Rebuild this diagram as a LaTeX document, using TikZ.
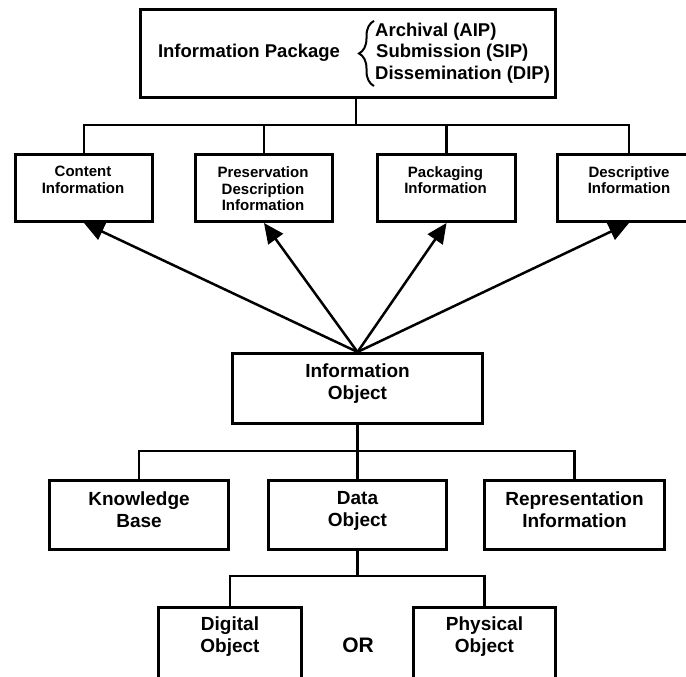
\documentclass[tikz,border=0pt]{standalone}
\usepackage{fontspec}
\setmainfont{Liberation Sans}
\usetikzlibrary{arrows.meta,decorations.pathreplacing}
\begin{document}
\begin{tikzpicture}[x=1pt,y=-1pt,
  box/.style={draw=black, line width=3pt, fill=white, inner sep=0pt, anchor=north west},
  conn/.style={draw=black, line width=2.5pt},
  arr/.style={conn, -{Triangle[length=20pt,width=18pt]}},
  small/.style={font=\fontsize{15}{16.5}\selectfont\bfseries, align=center, inner sep=0pt},
  big/.style={font=\fontsize{19}{22}\selectfont\bfseries, align=center, inner sep=0pt},
  head/.style={font=\fontsize{18.5}{22}\selectfont\bfseries, inner sep=0pt},
]
\useasboundingbox (0,0) rectangle (686,677);
\fill[white] (0,0) rectangle (686,677);
\clip (0,0) rectangle (686,677);

% --- boxes (outer edges; outer sep is half the line width) ---
\node[box, minimum width=415, minimum height=88] (ip)  at (139,8) {};
\node[box, minimum width=137, minimum height=67] (ci)  at (14,153) {};
\node[box, minimum width=137, minimum height=67] (pdi) at (194,153) {};
\node[box, minimum width=138, minimum height=67] (pki) at (376,153) {};
\node[box, minimum width=143, minimum height=67] (dsi) at (556,153) {};
\node[box, minimum width=250, minimum height=70] (io)  at (231,352) {};
\node[box, minimum width=179, minimum height=69] (kb)  at (48,479) {};
\node[box, minimum width=178, minimum height=69] (do)  at (267,479) {};
\node[box, minimum width=180, minimum height=69] (ri)  at (483,479) {};
\node[box, minimum width=143, minimum height=90] (dgo) at (157,606) {};
\node[box, minimum width=142, minimum height=90] (pho) at (412,606) {};

% --- texts ---
\node[head, anchor=base] (ipl) at (249,58) {Information Package};
\node[head, anchor=base west] (a1) at (375,36.5) {Archival (AIP)};
\node[head, anchor=base west] (a2) at (376,58) {Submission (SIP)};
\node[head, anchor=base west] (a3) at (375,80) {Dissemination (DIP)};
\draw[line width=2pt, decorate, decoration={brace, amplitude=15pt}]
  ([xshift=-1pt,yshift=-2pt]a3.south west) -- ([xshift=-1pt,yshift=2pt]a1.north west);

\node[small] (cit)  at (83,180)    {Content\\Information};
\node[small] (pdit) at (263,189)   {Preservation\\Description\\Information};
\node[small] (pkit) at (445.5,180) {Packaging\\Information};
\node[small] (dsit) at (629,180)   {Descriptive\\Information};
\node[big] (iot)  at (357.5,384) {Information\\Object};
\node[big] (kbt)  at (139,510)   {Knowledge\\Base};
\node[big] (dot)  at (357.5,511) {Data\\Object};
\node[big] (rit)  at (574.5,510) {Representation\\Information};
\node[big] (dgot) at (230,637)   {Digital\\Object};
\node[big] (phot) at (484.5,637) {Physical\\Object};
\node[font=\fontsize{21}{24}\selectfont\bfseries, inner sep=0pt] (or) at (358,645) {OR};

% --- package tree ---
\coordinate (bus1) at (356,125);
\draw[conn] (ip.south -| bus1) -- (bus1);
\draw[conn] (ci.north) |- (bus1) -| (dsi.north);
\draw[conn] (pdi.north) -- (pdi.north |- bus1);
\draw[conn] (pki.north) -- (pki.north |- bus1);

% --- arrows from the information object ---
\draw[arr] (io.north) -- (ci.south);
\draw[arr] (io.north) -- (pdi.south);
\draw[arr] (io.north) -- (pki.south);
\draw[arr] (io.north) -- (dsi.south);

% --- object tree ---
\coordinate (bus2) at ([yshift=-26pt]io.south);
\draw[conn] (io.south) -- (bus2);
\draw[conn] (kb.north) |- (bus2) -| (ri.north);
\draw[conn] (do.north) -- (do.north |- bus2);

\coordinate (bus3) at ([yshift=-25pt]do.south);
\draw[conn] (do.south) -- (bus3);
\draw[conn] (dgo.north) |- (bus3) -| (pho.north);
\end{tikzpicture}
\end{document}
